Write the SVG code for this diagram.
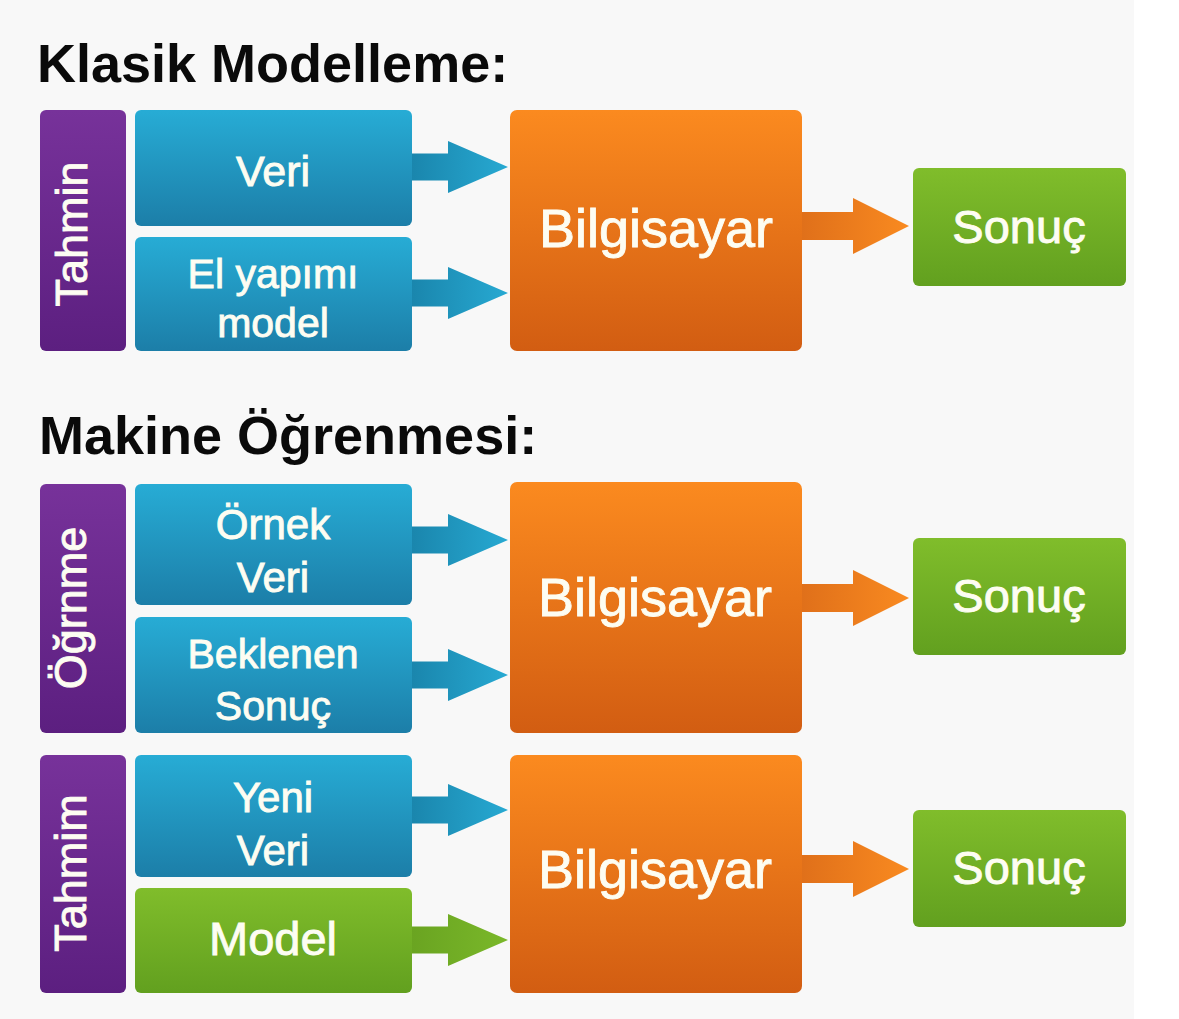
<svg xmlns="http://www.w3.org/2000/svg" width="1179" height="1019" viewBox="0 0 1179 1019">
<defs>
<linearGradient id="gP" x1="0" y1="0" x2="0" y2="1"><stop offset="0" stop-color="#77329a"/><stop offset="1" stop-color="#5c1f80"/></linearGradient>
<linearGradient id="gB" x1="0" y1="0" x2="0" y2="1"><stop offset="0" stop-color="#27acd5"/><stop offset="1" stop-color="#1c7ea8"/></linearGradient>
<linearGradient id="gO" x1="0" y1="0" x2="0" y2="1"><stop offset="0" stop-color="#fb8a1f"/><stop offset="1" stop-color="#d25d12"/></linearGradient>
<linearGradient id="gG" x1="0" y1="0" x2="0" y2="1"><stop offset="0" stop-color="#80bd2b"/><stop offset="1" stop-color="#62a01f"/></linearGradient>
<linearGradient id="sB" x1="0" y1="0" x2="1" y2="0"><stop offset="0" stop-color="#1a86ad"/><stop offset="1" stop-color="#27a9d2"/></linearGradient>
<linearGradient id="sO" x1="0" y1="0" x2="1" y2="0"><stop offset="0" stop-color="#e0701a"/><stop offset="1" stop-color="#f98a20"/></linearGradient>
<linearGradient id="sG" x1="0" y1="0" x2="1" y2="0"><stop offset="0" stop-color="#6aa421"/><stop offset="1" stop-color="#7ab82a"/></linearGradient>
<path id="arrS" d="M0,-13.5 H36 V-26 L96,0 L36,26 V13.5 H0 Z"/>
<path id="arrL" d="M0,-14 H51 V-28 L107,0 L51,28 V14 H0 Z"/>
</defs>
<style>
.t{font-family:"Liberation Sans",Arial,sans-serif;fill:#fdfdf2;stroke:#fdfdf2;stroke-width:0.9;text-anchor:middle}
.h{font-family:"Liberation Sans",Arial,sans-serif;font-weight:bold;fill:#0a0a0a;font-size:54px}
.p{fill:url(#gP)}.b{fill:url(#gB)}.o{fill:url(#gO)}.g{fill:url(#gG)}
.v{font-size:45px}
</style>
<rect x="0" y="0" width="1134" height="1019" fill="#f8f8f8"/>
<rect x="1134" y="0" width="45" height="1019" fill="#ffffff"/>

<text class="h" x="37" y="82">Klasik Modelleme:</text>
<text class="h" x="39" y="454">Makine Öğrenmesi:</text>

<g id="connectors">
<use href="#arrS" x="412" y="167" fill="url(#sB)"/>
<use href="#arrS" x="412" y="293" fill="url(#sB)"/>
<use href="#arrL" x="802" y="226" fill="url(#sO)"/>
<use href="#arrS" x="412" y="540" fill="url(#sB)"/>
<use href="#arrS" x="412" y="675" fill="url(#sB)"/>
<use href="#arrL" x="802" y="598" fill="url(#sO)"/>
<use href="#arrS" x="412" y="810" fill="url(#sB)"/>
<use href="#arrS" x="412" y="940" fill="url(#sG)"/>
<use href="#arrL" x="802" y="869" fill="url(#sO)"/>
</g>

<g id="tahmin1"><rect class="p" x="40" y="110" width="86" height="241" rx="6"/><text class="t v" transform="translate(87,234) rotate(-90)">Tahmin</text></g>
<g id="veri1"><rect class="b" x="135" y="110" width="277" height="116" rx="6"/><text class="t" x="273" y="186" font-size="43">Veri</text></g>
<g id="elyapimi"><rect class="b" x="135" y="237" width="277" height="114" rx="6"/><text class="t" font-size="41"><tspan x="273" y="288">El yapımı</tspan><tspan x="273" y="337">model</tspan></text></g>
<g id="bilgisayar1"><rect class="o" x="510" y="110" width="292" height="241" rx="7"/><text class="t" x="656" y="247" font-size="54">Bilgisayar</text></g>
<g id="sonuc1"><rect class="g" x="913" y="168" width="213" height="118" rx="6"/><text class="t" x="1019" y="243" font-size="47">Sonuç</text></g>

<g id="ogrnme"><rect class="p" x="40" y="484" width="86" height="249" rx="6"/><text class="t v" transform="translate(86,608) rotate(-90)">Öğrnme</text></g>
<g id="ornekveri"><rect class="b" x="135" y="484" width="277" height="121" rx="6"/><text class="t" font-size="42"><tspan x="273" y="539">Örnek</tspan><tspan x="273" y="592">Veri</tspan></text></g>
<g id="beklenen"><rect class="b" x="135" y="617" width="277" height="116" rx="6"/><text class="t" font-size="41"><tspan x="273" y="668">Beklenen</tspan><tspan x="273" y="720">Sonuç</tspan></text></g>
<g id="bilgisayar2"><rect class="o" x="510" y="482" width="292" height="251" rx="7"/><text class="t" x="655" y="616" font-size="54">Bilgisayar</text></g>
<g id="sonuc2"><rect class="g" x="913" y="538" width="213" height="117" rx="6"/><text class="t" x="1019" y="612" font-size="47">Sonuç</text></g>

<g id="tahmim"><rect class="p" x="40" y="755" width="86" height="238" rx="6"/><text class="t v" transform="translate(86,873) rotate(-90)">Tahmim</text></g>
<g id="yeniveri"><rect class="b" x="135" y="755" width="277" height="122" rx="6"/><text class="t" font-size="42"><tspan x="273" y="812">Yeni</tspan><tspan x="273" y="865">Veri</tspan></text></g>
<g id="model"><rect class="g" x="135" y="888" width="277" height="105" rx="6"/><text class="t" x="273" y="955" font-size="47">Model</text></g>
<g id="bilgisayar3"><rect class="o" x="510" y="755" width="292" height="238" rx="7"/><text class="t" x="655" y="888" font-size="54">Bilgisayar</text></g>
<g id="sonuc3"><rect class="g" x="913" y="810" width="213" height="117" rx="6"/><text class="t" x="1019" y="884" font-size="47">Sonuç</text></g>
</svg>
